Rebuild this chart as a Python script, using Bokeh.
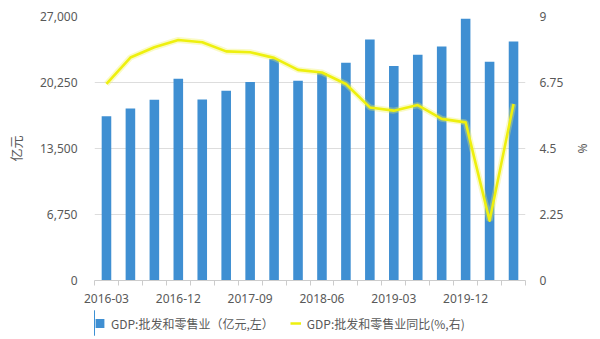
from bokeh.plotting import figure
from bokeh.layouts import column
from bokeh.models import (Range1d, LinearAxis, FixedTicker, Legend, LegendItem,
                          ColumnDataSource, NumeralTickFormatter)
from bokeh.embed import file_html
from bokeh.resources import INLINE

quarters = ["2016-03", "2016-06", "2016-09", "2016-12",
            "2017-03", "2017-06", "2017-09", "2017-12",
            "2018-03", "2018-06", "2018-09", "2018-12",
            "2019-03", "2019-06", "2019-09", "2019-12",
            "2020-03", "2020-06"]
gdp_value = [16800, 17600, 18490, 20640, 18520, 19410, 20300, 22650, 20430,
             21220, 22270, 24650, 21930, 23090, 23940, 26770, 22370, 24450]
gdp_yoy = [6.70, 7.60, 7.95, 8.20, 8.12, 7.81, 7.78, 7.59, 7.18,
           7.09, 6.70, 5.90, 5.79, 5.98, 5.51, 5.39, 2.04, 6.02]
left_ticks = [0, 6750, 13500, 20250, 27000]
right_ticks = [0, 2.25, 4.5, 6.75, 9]
label_every = 3
series_names = ["GDP:批发和零售业（亿元,左）", "GDP:批发和零售业同比(%,右)"]

FONT = "Noto Sans"
CJK = "Noto Sans CJK SC"
TXT = "#595959"
BAR = "#3f8fd2"
LINE = "#eef00e"

xs = list(range(len(quarters)))
src = ColumnDataSource(dict(x=xs, v=gdp_value, r=gdp_yoy))

p = figure(width=600, height=310, output_backend="svg",
           toolbar_location=None,
           x_range=Range1d(-0.5, len(quarters) - 0.5),
           y_range=Range1d(0, 27000),
           min_border_left=94, min_border_right=75, min_border_top=16,
           min_border_bottom=30)
p.outline_line_color = None
p.background_fill_color = "white"
p.border_fill_color = "white"
p.extra_y_ranges = {"right": Range1d(0, 9)}

bars = p.vbar(x="x", top="v", width=0.4, source=src, fill_color=BAR,
              line_color=None)
glow = p.line(x="x", y="r", source=src, y_range_name="right",
              line_color="#f2f25a", line_width=6, line_alpha=0.35)
ln = p.line(x="x", y="r", source=src, y_range_name="right",
            line_color=LINE, line_width=2.6, line_join="round")

# x axis
xa = p.xaxis[0]
xa.ticker = FixedTicker(ticks=xs[::label_every],
                        minor_ticks=[i - 0.5 for i in range(len(quarters) + 1)])
xa.major_label_overrides = {i: quarters[i] for i in xs}
xa.major_tick_line_color = None
xa.major_tick_out = 0
xa.major_tick_in = 0
xa.minor_tick_line_color = "#cccccc"
xa.minor_tick_out = 5
xa.minor_tick_in = 0
xa.axis_line_color = "#cccccc"
xa.major_label_standoff = 8
xa.major_label_text_font = FONT
xa.major_label_text_font_size = "12px"
xa.major_label_text_color = TXT

# left axis
ya = p.yaxis[0]
ya.ticker = FixedTicker(ticks=left_ticks)
ya.formatter = NumeralTickFormatter(format="0,0")
ya.axis_line_color = None
ya.major_tick_line_color = None
ya.major_tick_out = 0
ya.minor_tick_line_color = None
ya.major_label_standoff = 17
ya.major_label_text_font = FONT
ya.major_label_text_font_size = "12px"
ya.major_label_text_color = TXT
ya.axis_label = "亿元"
ya.axis_label_text_font = CJK
ya.axis_label_text_font_size = "13px"
ya.axis_label_text_font_style = "normal"
ya.axis_label_text_color = TXT
ya.axis_label_standoff = 12

ra = LinearAxis(y_range_name="right", ticker=FixedTicker(ticks=right_ticks))
ra.axis_line_color = None
ra.major_tick_line_color = None
ra.major_tick_out = 0
ra.minor_tick_line_color = None
ra.major_label_standoff = 14
ra.major_label_text_font = FONT
ra.major_label_text_font_size = "12px"
ra.major_label_text_color = TXT
ra.axis_label = "%"
ra.axis_label_text_font = FONT
ra.axis_label_text_font_size = "12px"
ra.axis_label_text_font_style = "normal"
ra.axis_label_text_color = TXT
ra.axis_label_standoff = 8
p.add_layout(ra, "right")

p.xgrid.grid_line_color = None
p.ygrid.grid_line_color = "#dddddd"
p.ygrid.ticker = FixedTicker(ticks=left_ticks)

# legend strip (frame aligned with the main frame); its renderers reuse the
# same data but lie outside this strip's x range, so only legend glyphs show
n = len(quarters)
q = figure(width=600, height=29, output_backend="svg", toolbar_location=None,
           x_range=Range1d(n + 5, n + 6), y_range=Range1d(0, 1),
           x_axis_type=None, y_axis_type=None,
           min_border_left=94, min_border_right=75,
           min_border_top=0, min_border_bottom=4)
q.outline_line_color = None
q.grid.grid_line_color = None
q.background_fill_color = "white"
q.border_fill_color = "white"
lb = q.vbar(x="x", top="v", width=0.4, source=src, fill_color=BAR,
            line_color=None)
ll = q.line(x="x", y="r", source=src, line_color=LINE, line_width=2.6)

legend = Legend(items=[
    LegendItem(label=series_names[0], renderers=[lb]),
    LegendItem(label=series_names[1], renderers=[ll]),
], orientation="horizontal", location="left")
legend.label_text_font = CJK
legend.label_text_font_size = "12px"
legend.label_text_color = TXT
legend.label_height = 12
legend.glyph_width = 11
legend.glyph_height = 11
legend.label_standoff = 6
legend.spacing = 16
legend.padding = 0
legend.margin = 0
legend.border_line_color = None
legend.background_fill_alpha = 0
q.add_layout(legend, "center")

layout = column(p, q, spacing=0)
open("out.html", "w").write(file_html(layout, INLINE))
